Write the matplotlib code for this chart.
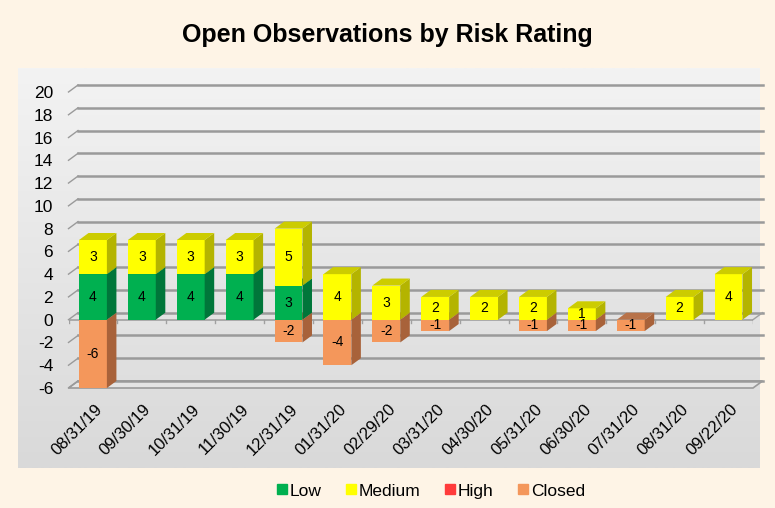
import numpy as np
import matplotlib.pyplot as plt
from matplotlib.patches import Polygon
from matplotlib.lines import Line2D

plt.rcParams['font.family'] = ['Liberation Sans', 'DejaVu Sans']

dates = ['08/31/19', '09/30/19', '10/31/19', '11/30/19', '12/31/19', '01/31/20', '02/29/20',
         '03/31/20', '04/30/20', '05/31/20', '06/30/20', '07/31/20', '08/31/20', '09/22/20']
low = [4, 4, 4, 4, 3, 0, 0, 0, 0, 0, 0, 0, 0, 0]
medium = [3, 3, 3, 3, 5, 4, 3, 2, 2, 2, 1, 0, 2, 4]
high = [0, 0, 0, 0, 0, 0, 0, 0, 0, 0, 0, 0, 0, 0]
closed = [-6, 0, 0, 0, -2, -4, -2, -1, 0, -1, -1, -1, 0, 0]

# front, side, top colours
colors = {
    'Low': ('#00b050', '#00763a', '#00903f'),
    'Medium': ('#ffff00', '#b4b400', '#cccc00'),
    'High': ('#ff3b3b', '#a82020', '#c82828'),
    'Closed': ('#f4975b', '#a8623a', '#b8734a'),
}

W, H = 775, 508
fig = plt.figure(figsize=(W / 100, H / 100), dpi=100)
fig.patch.set_facecolor('#fef4e6')

# plot area with gradient
bg = fig.add_axes([18 / W, 1 - 468 / H, (760 - 18) / W, (468 - 68) / H])
grad = np.linspace(0, 1, 256).reshape(-1, 1)
bg.imshow(grad, aspect='auto', cmap=plt.matplotlib.colors.LinearSegmentedColormap.from_list(
    'g', ['#f3f3f3', '#d9d9d9']), extent=[0, 1, 0, 1])
bg.axis('off')

ax = fig.add_axes([68.5 / W, 1 - 388 / H, (753 - 68.5) / W, (388 - 92) / H])
ax.set_xlim(-0.5, 13.5)
ax.set_ylim(-6, 20)
ax.patch.set_alpha(0)
for s in ax.spines.values():
    s.set_visible(False)

dx, dy = 0.195, 0.615
w = 0.57
n = len(dates)
x = np.arange(n)

# floor and back-wall gridlines
ax.add_patch(Polygon([(-0.5, -6), (13.5, -6), (13.5 + dx, -6 + dy), (-0.5 + dx, -6 + dy)],
                     closed=True, facecolor='#e4e4e4', edgecolor='#9a9a9a', lw=1.2,
                     clip_on=False, zorder=1))
for v in range(-6, 21, 2):
    ax.plot([-0.5 + dx, 13.5 + dx], [v + dy, v + dy], color='#9a9a9a', lw=1.8,
            clip_on=False, zorder=1)
    ax.plot([-0.5, -0.5 + dx], [v, v + dy], color='#9a9a9a', lw=1.0,
            clip_on=False, zorder=1)

# zero axis with ticks at category boundaries
ax.plot([-0.5, 13.5], [0, 0], color='#a0a0a0', lw=1.2, zorder=1.5)
ax.plot([13.5, 13.5 + dx], [0, dy], color='#a0a0a0', lw=1.0, zorder=1.5, clip_on=False)
for b in np.arange(-0.5, 14, 1):
    ax.plot([b, b], [0, -0.3], color='#a0a0a0', lw=1.0, zorder=1.5)


def bar3d(i, bottom, height, name, z):
    front, side, top = colors[name]
    ax.bar(x[i], height, bottom=bottom, width=w, color=front, zorder=z)
    y0, y1 = sorted([bottom, bottom + height])
    xl, xr = x[i] - w / 2, x[i] + w / 2
    ax.add_patch(Polygon([(xr, y0), (xr + dx, y0 + dy), (xr + dx, y1 + dy), (xr, y1)],
                         closed=True, facecolor=side, edgecolor='none', zorder=z,
                         clip_on=False))
    ax.add_patch(Polygon([(xl, y1), (xr, y1), (xr + dx, y1 + dy), (xl + dx, y1 + dy)],
                         closed=True, facecolor=top, edgecolor='none', zorder=z,
                         clip_on=False))
    ax.text(x[i], bottom + height / 2, f'{height:g}', ha='center', va='center',
            fontsize=10, color='black', zorder=z + 0.5)


for i in range(n):
    z = 2 + i * 0.01
    if closed[i] != 0:
        bar3d(i, 0, closed[i], 'Closed', z)
    base = 0
    for name, vals in (('Low', low), ('Medium', medium), ('High', high)):
        if vals[i] != 0:
            bar3d(i, base, vals[i], name, z + 0.002)
            base += vals[i]

ax.set_yticks(range(-6, 21, 2))
ax.set_yticklabels([str(v) for v in range(-6, 21, 2)], fontsize=12.5)
ax.tick_params(axis='y', length=0, pad=11)
ax.set_xticks([])
for i, d in enumerate(dates):
    ax.text(x[i] + 0.03, -7.2, d, rotation=45, rotation_mode='anchor', ha='right', va='top',
            fontsize=12, clip_on=False)

fig.text(0.5, 1 - 35 / H, 'Open Observations by Risk Rating', ha='center', va='center',
         fontsize=18, fontweight='bold')

handles = [Line2D([], [], marker='s', linestyle='none', markersize=7,
                  color=colors[k][0], label=k) for k in ('Low', 'Medium', 'High', 'Closed')]
fig.legend(handles=handles, loc='center', bbox_to_anchor=(0.555, 1 - 491 / H), ncol=4,
           frameon=False, fontsize=12.5, handletextpad=0.05, columnspacing=1.3,
           handlelength=0.8)

fig.savefig('out.png', dpi=100, facecolor=fig.get_facecolor())
